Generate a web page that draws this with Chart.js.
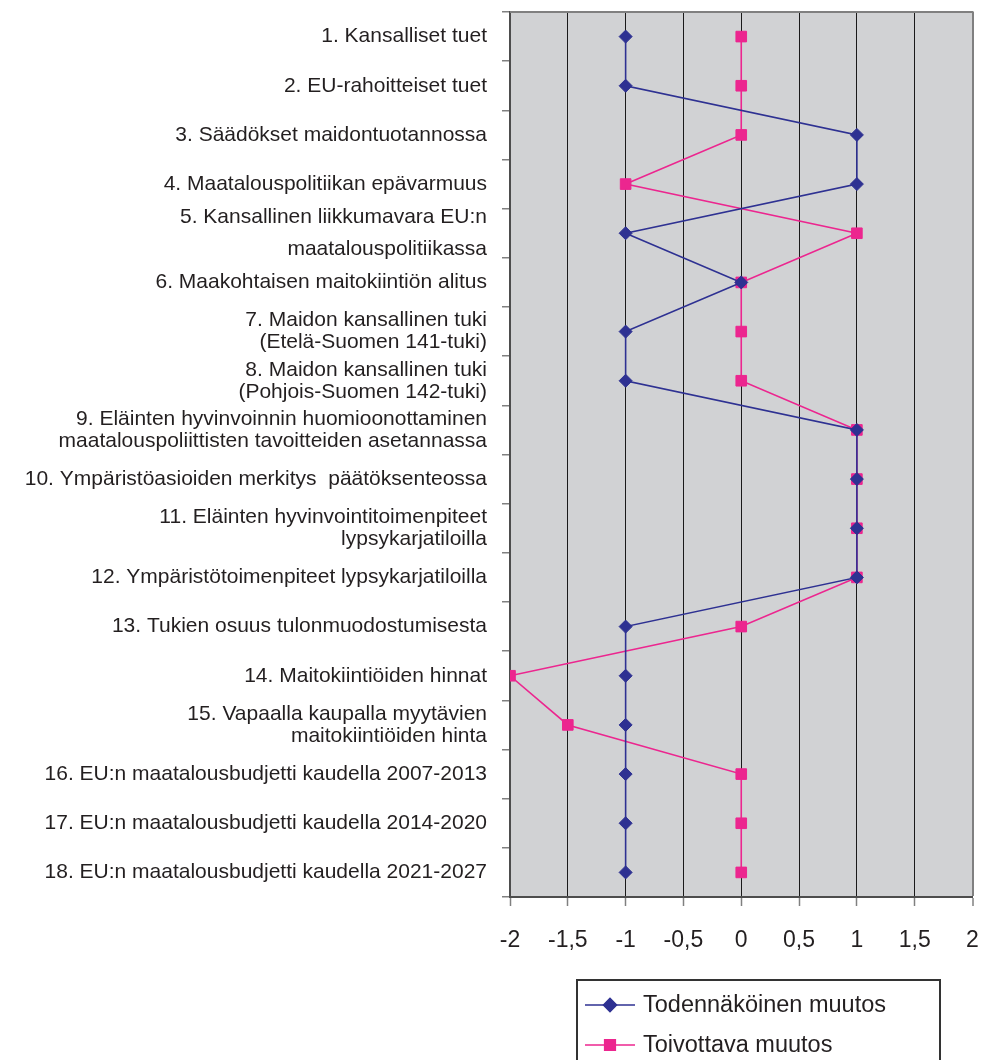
<!DOCTYPE html>
<html>
<head>
<meta charset="utf-8">
<script src="https://cdn.jsdelivr.net/npm/chart.js@4"></script>
<style>
  body { margin: 0; background: #fff; }
  #wrap { width: 981px; height: 1060px; position: relative; }
</style>
</head>
<body>
<div id="wrap"><canvas id="chart"></canvas></div>
<script>
// categories (top to bottom)
const categories = [
  '1. Kansalliset tuet',
  '2. EU-rahoitteiset tuet',
  '3. Säädökset maidontuotannossa',
  '4. Maatalouspolitiikan epävarmuus',
  ['5. Kansallinen liikkumavara EU:n', 'maatalouspolitiikassa'],
  '6. Maakohtaisen maitokiintiön alitus',
  ['7. Maidon kansallinen tuki', '(Etelä-Suomen 141-tuki)'],
  ['8. Maidon kansallinen tuki', '(Pohjois-Suomen 142-tuki)'],
  ['9. Eläinten hyvinvoinnin huomioonottaminen', 'maatalouspoliittisten tavoitteiden asetannassa'],
  '10. Ympäristöasioiden merkitys  päätöksenteossa',
  ['11. Eläinten hyvinvointitoimenpiteet', 'lypsykarjatiloilla'],
  '12. Ympäristötoimenpiteet lypsykarjatiloilla',
  '13. Tukien osuus tulonmuodostumisesta',
  '14. Maitokiintiöiden hinnat',
  ['15. Vapaalla kaupalla myytävien', 'maitokiintiöiden hinta'],
  '16. EU:n maatalousbudjetti kaudella 2007-2013',
  '17. EU:n maatalousbudjetti kaudella 2014-2020',
  '18. EU:n maatalousbudjetti kaudella 2021-2027'
];

const todennakoinen = [-1, -1, 1, 1, -1, 0, -1, -1, 1, 1, 1, 1, -1, -1, -1, -1, -1, -1];
const toivottava    = [0, 0, 0, -1, 1, 0, 0, 0, 1, 1, 1, 1, 0, -2, -1.5, 0, 0, 0];

const xTickLabels = ['-2', '-1,5', '-1', '-0,5', '0', '0,5', '1', '1,5', '2'];

const seriesNames = ['Todennäköinen muutos', 'Toivottava muutos'];

const BLUE = '#2e3192';
const PINK = '#ec268f';
const TEXT = '#231f20';

// no automatic label padding, plot area is fixed by layout padding
function noPad(scale) {
  scale.paddingTop = 0;
  scale.paddingBottom = 0;
  scale.paddingLeft = 0;
  scale.paddingRight = 0;
}

// gray plot area + top border
const plotBg = {
  id: 'plotBg',
  beforeDraw(chart) {
    const { ctx, chartArea: a } = chart;
    ctx.save();
    ctx.fillStyle = '#d1d2d4';
    ctx.fillRect(a.left, a.top, a.right - a.left, a.bottom - a.top);
    ctx.restore();
  },
  beforeDatasetsDraw(chart) {
    const { ctx, chartArea: a } = chart;
    ctx.save();
    ctx.strokeStyle = '#808080';
    ctx.lineWidth = 2;
    ctx.beginPath();
    ctx.moveTo(a.left, a.top);
    ctx.lineTo(a.right + 1, a.top);
    ctx.stroke();
    ctx.restore();
  }
};

// boxed legend under the axis
const boxLegend = {
  id: 'boxLegend',
  afterDraw(chart) {
    const ctx = chart.ctx;
    const left = 577, top = 980, right = 940;
    ctx.save();
    ctx.strokeStyle = '#333';
    ctx.lineWidth = 2;
    ctx.strokeRect(left, top, right - left, 100);
    chart.data.datasets.forEach((ds, i) => {
      const y = 1005 + i * 40;
      ctx.strokeStyle = ds.borderColor;
      ctx.lineWidth = 1.6;
      ctx.beginPath();
      ctx.moveTo(585, y);
      ctx.lineTo(635, y);
      ctx.stroke();
      ctx.fillStyle = ds.pointBackgroundColor;
      ctx.strokeStyle = ds.pointBorderColor;
      Chart.helpers.drawPoint(ctx, {
        pointStyle: ds.pointStyle,
        radius: ds.pointRadius,
        borderWidth: 1
      }, 610, y);
      ctx.fillStyle = TEXT;
      ctx.font = '23.5px "Liberation Sans", Arial, sans-serif';
      ctx.textBaseline = 'middle';
      ctx.textAlign = 'left';
      ctx.fillText(seriesNames[i], 643, y + 1);
    });
    ctx.restore();
  }
};

new Chart(document.getElementById('chart'), {
  type: 'line',
  data: {
    labels: categories,
    datasets: [
      {
        label: seriesNames[0],
        data: todennakoinen,
        borderColor: BLUE,
        backgroundColor: BLUE,
        pointBackgroundColor: BLUE,
        pointBorderColor: BLUE,
        borderWidth: 1.6,
        pointStyle: 'rectRot',
        pointRadius: 6.5,
        pointBorderWidth: 1,
        tension: 0
      },
      {
        label: seriesNames[1],
        data: toivottava,
        borderColor: PINK,
        backgroundColor: PINK,
        pointBackgroundColor: PINK,
        pointBorderColor: PINK,
        borderWidth: 1.6,
        pointStyle: 'rect',
        pointRadius: 7.5,
        pointBorderWidth: 1,
        tension: 0
      }
    ]
  },
  options: {
    indexAxis: 'y',
    responsive: true,
    maintainAspectRatio: false,
    animation: false,
    layout: { padding: { top: 12, right: 8, left: 0, bottom: 0 } },
    plugins: {
      legend: { display: false },
      tooltip: { enabled: false }
    },
    scales: {
      x: {
        type: 'linear',
        min: -2,
        max: 2,
        afterFit(scale) { scale.height = 163; noPad(scale); },
        afterBuildTicks(scale) {
          scale.ticks = xTickLabels.map((t, i) => ({ value: -2 + i * 0.5 }));
        },
        ticks: {
          autoSkip: false,
          maxRotation: 0,
          padding: 21,
          color: TEXT,
          font: { family: '"Liberation Sans", Arial, sans-serif', size: 23 },
          callback: (v, i) => xTickLabels[i]
        },
        border: { color: '#4d4d4d', width: 2 },
        grid: {
          color: (c) => c.index === 0 ? 'rgba(0,0,0,0)' : (c.index === 8 ? '#808080' : '#1a1a1a'),
          lineWidth: (c) => c.index === 8 ? 2 : 1,
          tickColor: '#808080',
          tickLength: 9,
          tickWidth: 1.5
        }
      },
      y: {
        type: 'category',
        offset: true,
        afterFit(scale) { scale.width = 510; noPad(scale); },
        ticks: {
          autoSkip: false,
          padding: 15,
          color: TEXT,
          font: (c) => ({
            family: '"Liberation Sans", Arial, sans-serif',
            size: 21,
            lineHeight: c.index === 4 ? 1.5 : 1.05
          })
        },
        border: { color: '#4d4d4d', width: 2 },
        grid: {
          offset: true,
          drawOnChartArea: false,
          color: '#808080',
          tickLength: 8,
          lineWidth: 1.5
        }
      }
    }
  },
  plugins: [plotBg, boxLegend]
});
</script>
</body>
</html>
